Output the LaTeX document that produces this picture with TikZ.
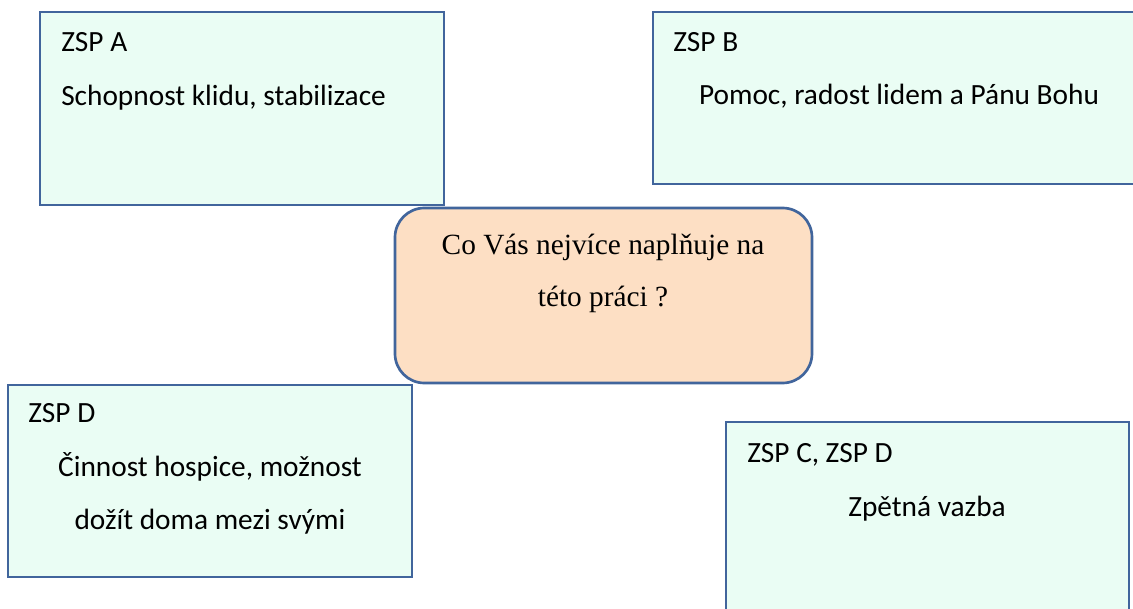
\documentclass[tikz,border=0pt]{standalone}
\usepackage{fontspec}
\setmainfont{Carlito}
\newfontfamily\timesfont{Liberation Serif}

\definecolor{boxline}{HTML}{41659C}
\definecolor{boxfill}{HTML}{EAFDF4}
\definecolor{askfill}{HTML}{FDDFC4}

\begin{document}
\begin{tikzpicture}[x=0.75pt,y=-0.75pt,
    zspbox/.style={draw=boxline, line width=2pt, fill=boxfill},
    askbox/.style={draw=boxline, line width=2pt, fill=askfill, rounded corners=22pt},
    txt/.style={inner sep=0pt, font=\fontsize{22}{26}\selectfont},
    asktxt/.style={inner sep=0pt, font=\timesfont\fontsize{22}{26}\selectfont}]

\clip (0,0) rectangle (1133,609);

% ZSP A (top left)
\draw [zspbox] (40,12) rectangle (444,205);
\node [txt, anchor=base west] (zspA) at (61,52) {ZSP A};
\node [txt, anchor=base west] (klid) at (61,106) {Schopnost klidu, stabilizace};

% ZSP B (top right)
\draw [zspbox] (653,12) rectangle (1145,184);
\node [txt, anchor=base west] (zspB) at (673,52) {ZSP B};
\node [txt, anchor=base] (pomoc) at (899,105) {Pomoc, radost lidem a Pánu Bohu};

% Question (middle)
\draw [askbox] (395,208) rectangle (812,383);
\node [asktxt, anchor=base] (ask1) at (603,255) {Co Vás nejvíce naplňuje na};
\node [asktxt, anchor=base] (ask2) at (603,307) {této práci ?};

% ZSP D (bottom left)
\draw [zspbox] (8,385) rectangle (412,577);
\node [txt, anchor=base west] (zspD) at (28,423) {ZSP D};
\node [txt, anchor=base] (hosp1) at (210,477) {Činnost hospice, možnost};
\node [txt, anchor=base] (hosp2) at (210,530) {dožít doma mezi svými};

% ZSP C, ZSP D (bottom right)
\draw [zspbox] (726,422) rectangle (1129,625);
\node [txt, anchor=base west] (zspC) at (747,463) {ZSP C, ZSP D};
\node [txt, anchor=base] (vazba) at (927,517) {Zpětná vazba};

\end{tikzpicture}
\end{document}
